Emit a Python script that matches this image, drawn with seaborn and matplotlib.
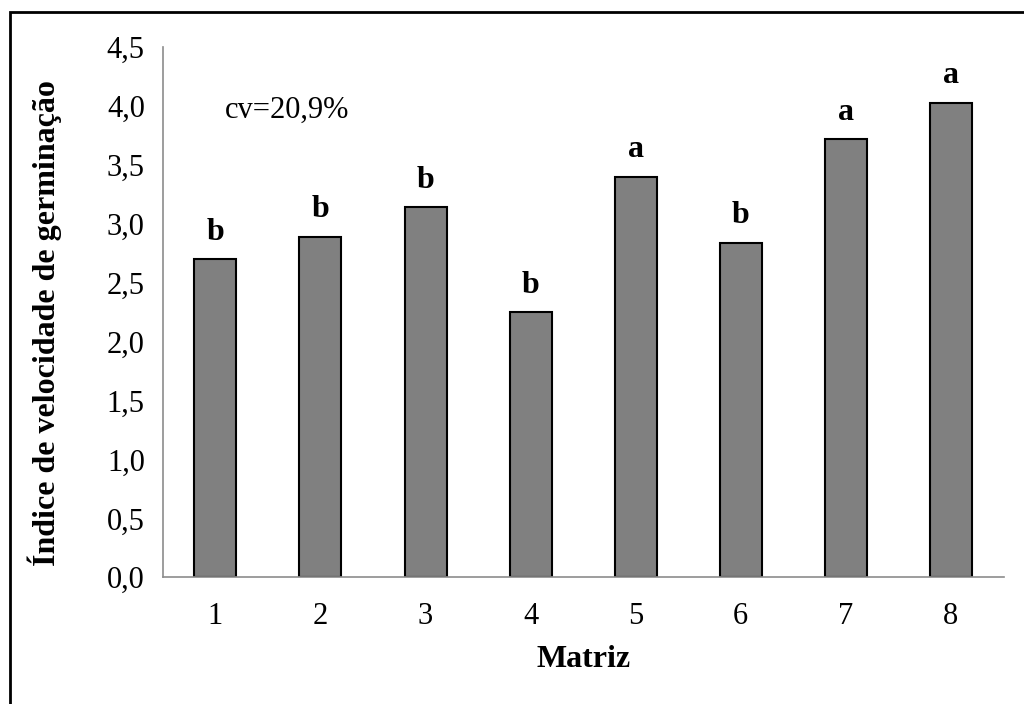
import pandas as pd
import matplotlib.pyplot as plt
import seaborn as sns
from matplotlib.patches import Rectangle
from matplotlib.ticker import FuncFormatter

# Data
matriz = ["1", "2", "3", "4", "5", "6", "7", "8"]
ivg = [2.70, 2.89, 3.14, 2.25, 3.40, 2.84, 3.72, 4.03]
letras = ["b", "b", "b", "b", "a", "b", "a", "a"]

df = pd.DataFrame({"Matriz": matriz, "IVG": ivg})

sns.set_style("white")
plt.rcParams["font.family"] = ["Liberation Serif", "DejaVu Serif"]
plt.rcParams["text.color"] = "black"
plt.rcParams["axes.labelcolor"] = "black"
plt.rcParams["xtick.color"] = "black"
plt.rcParams["ytick.color"] = "black"

fig = plt.figure(figsize=(10.24, 7.04), dpi=100)
ax = fig.add_axes([0.159, 0.180, 0.821, 0.753])

sns.barplot(
    data=df, x="Matriz", y="IVG", ax=ax,
    color="#808080", saturation=1, width=0.4,
    edgecolor="black", linewidth=1.5
)

# letters above bars
for i, (v, l) in enumerate(zip(ivg, letras)):
    ax.annotate(l, (i, v), xytext=(0, 9), textcoords="offset points",
                ha="center", va="bottom", fontsize=23, fontweight="bold")

ax.text(0.074, 0.88, "cv=20,9%", transform=ax.transAxes,
        fontsize=22, va="center", ha="left")

ax.set_ylim(0, 4.5)
ax.set_xlim(-0.5, 7.5)
ax.set_yticks([i * 0.5 for i in range(10)])
ax.yaxis.set_major_formatter(FuncFormatter(lambda v, p: f"{v:.1f}".replace(".", ",")))

# category separator ticks on x
ax.set_xticks([i - 0.5 for i in range(9)], minor=True)
ax.tick_params(axis="x", which="major", length=0, pad=18, labelsize=22)
ax.tick_params(axis="x", which="minor", length=7, color="#8c8c8c", width=1.2)
ax.tick_params(axis="y", length=7, color="#8c8c8c", width=1.2, labelsize=22, pad=6)

for s in ["top", "right"]:
    ax.spines[s].set_visible(False)
for s in ["left", "bottom"]:
    ax.spines[s].set_color("#8c8c8c")
    ax.spines[s].set_linewidth(1.2)

ax.set_xlabel("Matriz", fontsize=23, fontweight="bold", labelpad=10)
ax.set_ylabel("Índice de velocidade de germinação", fontsize=23,
              fontweight="bold")
ax.yaxis.set_label_coords(-0.12, 0.48)

# outer frame
fig.patches.append(Rectangle((10 / 1024, -0.05), 1.1, (704 - 12) / 704 + 0.05,
                             transform=fig.transFigure, fill=False,
                             edgecolor="black", linewidth=2))

fig.savefig("out.png", dpi=100)
